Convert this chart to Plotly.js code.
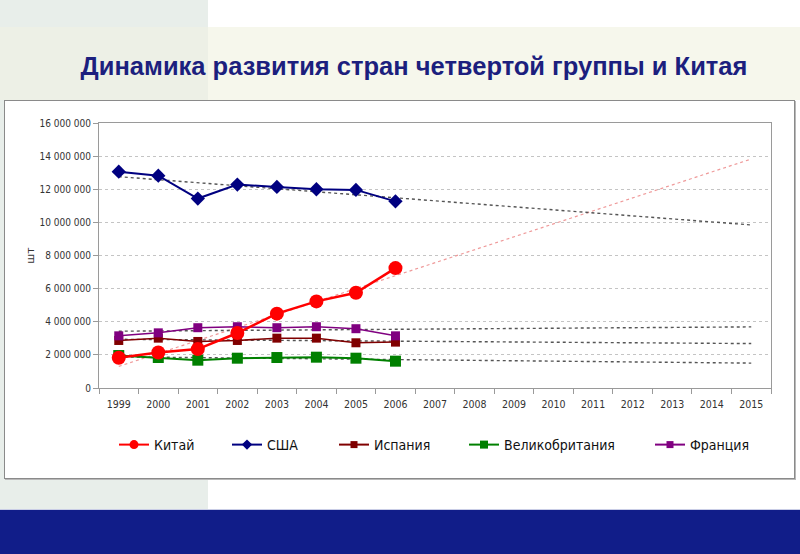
<!DOCTYPE html>
<html>
<head>
<meta charset="utf-8">
<script src="https://cdn.plot.ly/plotly-3.0.1.min.js"></script>
<style>
  html, body { margin:0; padding:0; width:800px; height:554px; overflow:hidden; background:#ffffff; position:relative; }
  .bg { position:absolute; }
  #title { position:absolute; left:0; top:52px; width:828px; text-align:center; font-family:"Liberation Sans", Arial, sans-serif; font-weight:bold; font-size:25.5px; color:#1c1f7e; white-space:nowrap; }
  #chart { position:absolute; left:0; top:0; width:800px; height:554px; }
</style>
</head>
<body>
<div class="bg" style="left:0;top:0;width:208px;height:509px;background:#e8eeea;"></div>
<div class="bg" style="left:208px;top:27px;width:592px;height:73px;background:#f6f7ec;"></div>
<div class="bg" style="left:0;top:27px;width:208px;height:73px;background:#edf0e6;"></div>
<div class="bg" style="left:4px;top:100px;width:789px;height:377px;background:#ffffff;border:1px solid #8a8a8a;box-shadow:1px 1px 0 #b8b8b8;"></div>
<div class="bg" style="left:0;top:509px;width:800px;height:45px;background:#111d89;border-top:1px solid #c9cde6;"></div>
<div id="title">Динамика развития стран четвертой группы и Китая</div>
<div id="chart"></div>
<script>
// ---- data ----
var years = ['1999','2000','2001','2002','2003','2004','2005','2006','2007','2008','2009','2010','2011','2012','2013','2014','2015'];
var dataYears = ['1999','2000','2001','2002','2003','2004','2005','2006'];
var china  = [1830000, 2140000, 2350000, 3320000, 4490000, 5230000, 5750000, 7240000];
var usa    = [13060000, 12820000, 11440000, 12280000, 12140000, 12000000, 11960000, 11270000];
var spain  = [2870000, 3010000, 2810000, 2870000, 3010000, 3010000, 2730000, 2770000];
var uk     = [1960000, 1840000, 1680000, 1800000, 1840000, 1860000, 1800000, 1620000];
var france = [3150000, 3330000, 3640000, 3700000, 3640000, 3700000, 3580000, 3150000];
var yTicks = [0, 2000000, 4000000, 6000000, 8000000, 10000000, 12000000, 14000000, 16000000];
var seriesNames = ['Китай', 'США', 'Испания', 'Великобритания', 'Франция'];

// linear trend (least squares) over the data years, extended to the last category
function trend(vals) {
  var n = vals.length, sx = 0, sy = 0, sxx = 0, sxy = 0;
  for (var i = 0; i < n; i++) { sx += i; sy += vals[i]; sxx += i*i; sxy += i*vals[i]; }
  var b = (n*sxy - sx*sy) / (n*sxx - sx*sx);
  var a = (sy - b*sx) / n;
  var last = years.length - 1;
  return { x: [years[0], years[last]], y: [a, a + b*last] };
}

var series = [
  { name: seriesNames[0], y: china,  color:'#ff0000', symbol:'circle',  size:14, width:2.5, lsize:9, tcolor:'#ef9a9a', twidth:1.2 },
  { name: seriesNames[1], y: usa,    color:'#000080', symbol:'diamond', size:11, width:2,   lsize:8, tcolor:'#555555', twidth:1.4 },
  { name: seriesNames[2], y: spain,  color:'#800000', symbol:'square',  size:9,  width:1.5, lsize:7, tcolor:'#555555', twidth:1.4 },
  { name: seriesNames[3], y: uk,     color:'#008000', symbol:'square',  size:11, width:2,   lsize:8, tcolor:'#555555', twidth:1.4 },
  { name: seriesNames[4], y: france, color:'#800080', symbol:'square',  size:9,  width:1.5, lsize:7, tcolor:'#555555', twidth:1.4 }
];

var traces = [];
// trend lines first (drawn underneath)
series.forEach(function(s) {
  var t = trend(s.y);
  traces.push({ x: t.x, y: t.y, mode:'lines', type:'scatter', showlegend:false, hoverinfo:'skip',
                line:{ color:s.tcolor, width:s.twidth, dash:'dot' } });
});
var legendIds = ['legend','legend2','legend3','legend4','legend5'];
// draw order so China is on top
var order = [1, 2, 4, 3, 0];
order.forEach(function(k) {
  var s = series[k];
  traces.push({ x: dataYears, y: s.y, name: s.name, mode:'lines+markers', type:'scatter',
                showlegend:false,
                line:{ color:s.color, width:s.width },
                marker:{ color:s.color, symbol:s.symbol, size:s.size } });
});
// legend entries (same series, smaller legend symbols, no plotted points)
series.forEach(function(s, k) {
  traces.push({ x:[null], y:[null], name: s.name, mode:'lines+markers', type:'scatter',
                legend: legendIds[k], showlegend:true, hoverinfo:'skip',
                line:{ color:s.color, width:2 },
                marker:{ color:s.color, symbol:s.symbol, size:s.lsize } });
});

var L = 99, R = 771, T = 123, B = 388;
var W = R - L, H = B - T;
function px(x) { return (x - L) / W; }
function py(y) { return (B - y) / H; }
var legStarts = [114, 227, 334, 464, 650];
var legFont = { family:'"DejaVu Sans Condensed", "DejaVu Sans", sans-serif', size:14, color:'#111111' };

var layout = {
  width: 800, height: 554,
  margin: { l: L, r: 800 - R, t: T, b: 554 - B },
  paper_bgcolor: 'rgba(0,0,0,0)',
  plot_bgcolor: '#ffffff',
  separators: ', ',
  font: { family: '"DejaVu Sans", sans-serif', size: 10, color:'#333333' },
  xaxis: {
    type:'category', categoryorder:'array', categoryarray: years,
    range: [-0.5, years.length - 0.5],
    showline:true, linecolor:'#9a9a9a', linewidth:1, mirror:true,
    ticks:'outside', tickson:'boundaries', ticklen:5, tickcolor:'#9a9a9a',
    ticklabelstandoff: 6,
    showgrid:false, zeroline:false,
    tickfont:{ family:'"DejaVu Sans Condensed", "DejaVu Sans", sans-serif', size:10.5, color:'#333333' },
    fixedrange:true
  },
  yaxis: {
    range:[0, 16000000], tickvals: yTicks, tickformat: ',d',
    showline:true, linecolor:'#9a9a9a', linewidth:1, mirror:true,
    ticks:'outside', ticklen:5, tickcolor:'#9a9a9a',
    showgrid:true, gridcolor:'#c4c4c4', griddash:'dot', gridwidth:1,
    zeroline:false,
    tickfont:{ family:'"DejaVu Sans Condensed", "DejaVu Sans", sans-serif', size:10, color:'#333333' },
    title:{ text:'шт', font:{ family:'"DejaVu Sans", sans-serif', size:11, color:'#333333' }, standoff:2 },
    fixedrange:true
  },
  showlegend: true
};
legendIds.forEach(function(id, k) {
  layout[id] = { orientation:'h', x: px(legStarts[k]), xanchor:'left', y: py(445), yanchor:'middle',
                 bgcolor:'rgba(0,0,0,0)', borderwidth:0, font: legFont };
});

Plotly.newPlot('chart', traces, layout, { displayModeBar:false, staticPlot:true });
</script>
</body>
</html>
